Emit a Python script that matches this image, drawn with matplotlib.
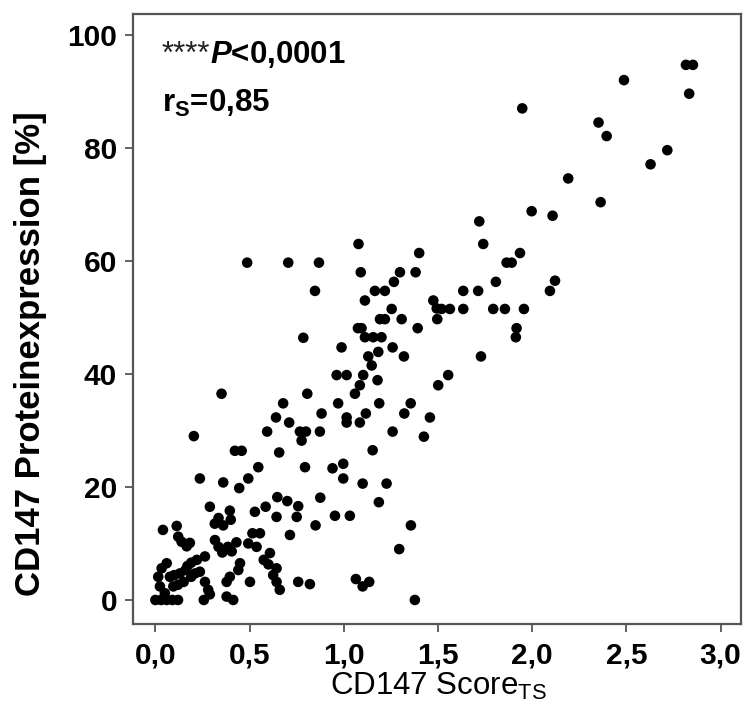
import matplotlib
matplotlib.use("Agg")
import matplotlib.pyplot as plt

plt.rcParams['font.family'] = ['Liberation Sans', 'DejaVu Sans']
plt.rcParams['mathtext.fontset'] = 'custom'
plt.rcParams['mathtext.rm'] = 'Liberation Sans'
plt.rcParams['mathtext.bf'] = 'Liberation Sans:bold'
plt.rcParams['mathtext.it'] = 'Liberation Sans:italic:bold'

# ---- data ----
score_upper = [2.816, 2.853, 2.487, 2.833, 1.947, 2.352, 2.395, 2.717, 2.628, 2.191,
               2.363, 1.997, 2.108, 2.121, 2.094]
expr_upper = [94.7, 94.7, 92.0, 89.6, 87.0, 84.5, 82.1, 79.6, 77.1, 74.6,
              70.4, 68.8, 68.0, 56.5, 54.7]

score_midright = [1.719, 1.740, 1.935, 1.864, 1.891, 1.807, 1.634, 1.713, 1.475, 1.493,
                  1.519, 1.563, 1.634, 1.793, 1.855, 1.956, 1.496, 1.917, 1.913, 1.728,
                  1.554, 1.501]
expr_midright = [67.0, 63.0, 61.4, 59.7, 59.7, 56.3, 54.7, 54.7, 53.0, 51.6,
                 51.5, 51.5, 51.5, 51.5, 51.5, 51.5, 49.7, 48.1, 46.5, 43.1,
                 39.8, 38.0]

score_mid = [1.400, 1.381, 1.298, 1.266, 1.392, 1.319, 1.355, 1.321, 1.457, 1.425,
             1.356, 1.294, 1.377, 1.307, 1.254, 1.259, 1.259]
expr_mid = [61.4, 58.0, 58.0, 56.3, 48.1, 43.1, 34.8, 33.0, 32.3, 28.9,
            13.2, 9.0, 0.0, 49.7, 51.5, 44.7, 29.8]

score_center = [1.078, 1.090, 1.165, 1.218, 1.112, 1.192, 1.218, 1.075, 1.094, 1.112,
                1.156, 1.200, 0.988, 1.183, 1.130, 1.148, 0.962, 1.015, 1.103, 1.085,
                1.059, 1.179, 0.970, 1.188, 0.882, 1.015, 1.015, 1.085, 1.117, 0.873,
                1.153, 0.940, 0.997, 0.997, 1.100, 1.227, 1.186, 0.875, 0.953, 1.032,
                0.850, 1.064, 1.100, 1.135]
expr_center = [63.0, 58.0, 54.7, 54.7, 53.0, 49.7, 49.7, 48.1, 48.1, 46.5,
               46.5, 46.5, 44.7, 43.9, 43.1, 41.5, 39.8, 39.8, 39.8, 38.0,
               36.5, 38.9, 34.8, 34.8, 33.0, 32.3, 31.4, 31.4, 33.0, 29.8,
               26.5, 23.3, 24.1, 21.5, 20.6, 20.6, 17.3, 18.1, 14.9, 14.9,
               13.2, 3.7, 2.4, 3.2]

score_leftmid = [0.487, 0.705, 0.868, 0.847, 0.785, 0.351, 0.806, 0.678, 0.640, 0.710,
                 0.593, 0.767, 0.799, 0.776, 0.422, 0.458, 0.657, 0.546, 0.794]
expr_leftmid = [59.7, 59.7, 59.7, 54.7, 46.4, 36.5, 36.5, 34.8, 32.3, 31.4,
                29.8, 29.8, 29.8, 28.2, 26.4, 26.4, 26.1, 23.5, 23.5]

score_lowleft = [0.204, 0.236, 0.360, 0.445, 0.493, 0.647, 0.700, 0.758, 0.750, 0.585,
                 0.528, 0.643, 0.714, 0.289, 0.395, 0.400, 0.335, 0.315, 0.360, 0.040,
                 0.113, 0.121, 0.139, 0.166, 0.183, 0.515, 0.555, 0.493, 0.537, 0.316,
                 0.335, 0.355, 0.385, 0.405, 0.430, 0.608, 0.575, 0.600, 0.643, 0.625,
                 0.643, 0.660, 0.449, 0.440, 0.502, 0.758, 0.820, 0.378, 0.395, 0.263,
                 0.280, 0.289, 0.257, 0.378, 0.413, 0.263, 0.220, 0.190, 0.170]
expr_lowleft = [29.0, 21.5, 20.8, 19.8, 21.5, 18.2, 17.5, 16.6, 14.7, 16.5,
                15.6, 14.7, 11.5, 16.5, 15.8, 14.2, 14.5, 13.5, 13.2, 12.4,
                13.1, 11.2, 10.3, 9.5, 10.1, 11.8, 11.8, 10.0, 9.4, 10.6,
                9.4, 8.4, 9.4, 8.6, 10.2, 8.3, 7.1, 6.3, 5.6, 4.4,
                3.2, 1.8, 6.5, 5.3, 3.2, 3.2, 2.8, 3.2, 4.1, 3.2,
                1.8, 1.0, 0.0, 0.6, 0.0, 7.7, 7.1, 6.6, 6.0]

score_bottom = [0.000, 0.030, 0.060, 0.090, 0.120, 0.050, 0.024, 0.015, 0.033, 0.060,
                0.077, 0.095, 0.100, 0.120, 0.130, 0.150, 0.160, 0.190, 0.210, 0.236]
expr_bottom = [0.0, 0.0, 0.0, 0.0, 0.0, 1.2, 2.4, 4.1, 5.6, 6.5,
               4.1, 2.4, 4.4, 2.7, 4.7, 3.2, 5.3, 4.1, 4.7, 5.0]

score = (score_upper + score_midright + score_mid + score_center + score_leftmid
         + score_lowleft + score_bottom)
expr = (expr_upper + expr_midright + expr_mid + expr_center + expr_leftmid
        + expr_lowleft + expr_bottom)

x_ticks = [0.0, 0.5, 1.0, 1.5, 2.0, 2.5, 3.0]
x_ticklabels = ['0,0', '0,5', '1,0', '1,5', '2,0', '2,5', '3,0']
y_ticks = [0, 20, 40, 60, 80, 100]
y_ticklabels = ['0', '20', '40', '60', '80', '100']

# ---- figure ----
fig = plt.figure(figsize=(7.45, 7.15), dpi=100)
ax = fig.add_axes([0.1785, 0.1273, 0.8161, 0.8531])

ax.scatter(score, expr, s=58, color='black', edgecolors='none', zorder=3)

ax.set_xlim(-0.119, 3.108)
ax.set_ylim(-4.25, 103.7)

ax.set_xticks(x_ticks)
ax.set_xticklabels(x_ticklabels)
ax.set_yticks(y_ticks)
ax.set_yticklabels(y_ticklabels)

for sp in ax.spines.values():
    sp.set_color('#555555')
    sp.set_linewidth(1.6)

ax.tick_params(axis='both', direction='out', length=5.5, width=1.3, color='#555555',
               labelsize=21.5)
ax.tick_params(axis='x', pad=7)
ax.tick_params(axis='y', pad=6)
for lab in ax.get_xticklabels() + ax.get_yticklabels():
    lab.set_fontweight('bold')

ax.set_xlabel(r'CD147 Score$_{\mathrm{TS}}$', fontsize=22.5)
ax.xaxis.set_label_coords(0.503, -0.077)
ax.set_ylabel('CD147 Proteinexpression [%]', fontsize=25, fontweight='bold')
ax.yaxis.set_label_coords(-0.141, 0.444)

t_star = ax.text(0.0477, 0.9085, '****', transform=ax.transAxes,
                 fontsize=22.5, fontweight='normal', color='#222222',
                 ha='left', va='bottom')
ax.annotate(r'$\mathit{P}$<0,0001', xy=(1, 0), xycoords=t_star,
            fontsize=22.5, fontweight='bold', ha='left', va='bottom')
ax.text(0.0477, 0.840, r'$\mathbf{r_S}$=0,85', transform=ax.transAxes,
        fontsize=22.5, fontweight='bold', ha='left', va='baseline')

fig.savefig('out.png', dpi=100)
